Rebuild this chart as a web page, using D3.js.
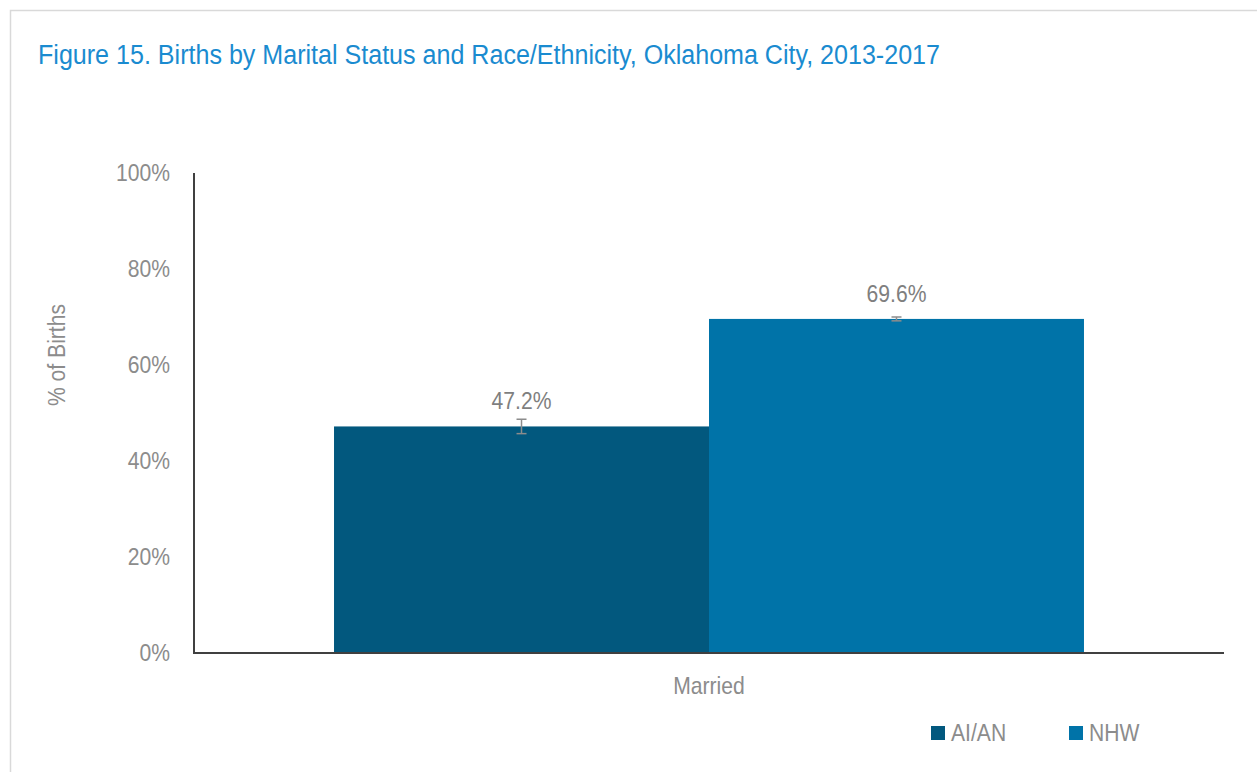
<!DOCTYPE html>
<html>
<head>
<meta charset="utf-8">
<script src="https://cdn.jsdelivr.net/npm/d3@7"></script>
<style>
  html, body { margin: 0; padding: 0; background: #fff; }
  svg { display: block; }
  text { font-family: "Liberation Sans", Arial, sans-serif; }
</style>
</head>
<body>
<svg id="chart" width="1257" height="772"></svg>
<script>
const title = "Figure 15. Births by Marital Status and Race/Ethnicity, Oklahoma City, 2013-2017";
const categories = ["Married"];
const seriesNames = ["AI/AN", "NHW"];
const seriesColors = ["#02587e", "#0073a8"];
const aianValues = [47.2];
const nhwValues = [69.6];
const aianErrors = [1.5];
const nhwErrors = [0.4];
const yTicks = [0, 20, 40, 60, 80, 100];
const yLabel = "% of Births";

const svg = d3.select("#chart");
const W = 1257, H = 772;
const NARROW = 0.88;
const GRAY = "#8c8c8c";

// narrow-text helper (emulates Arial Narrow by horizontal scaling)
function ntext(parent, x, y, str, opts = {}) {
  const rot = opts.rotate ? ` rotate(${opts.rotate})` : "";
  return parent.append("text")
    .attr("transform", `translate(${x},${y})${rot} scale(${NARROW},1)`)
    .attr("text-anchor", opts.anchor || "start")
    .attr("dominant-baseline", opts.baseline || "auto")
    .attr("fill", opts.fill || GRAY)
    .attr("font-size", opts.size || 24)
    .text(str);
}

// outer border
svg.append("rect")
  .attr("x", 10.5).attr("y", 10.5)
  .attr("width", W + 20).attr("height", H + 20)
  .attr("fill", "none").attr("stroke", "#d9d9d9").attr("stroke-width", 1.5);

svg.append("text")
  .attr("x", 38).attr("y", 64)
  .attr("fill", "#1a8bd0")
  .attr("font-size", 27)
  .attr("textLength", 902)
  .attr("lengthAdjust", "spacingAndGlyphs")
  .text(title);

const plot = { left: 194, right: 1224, top: 173, bottom: 653 };

const y = d3.scaleLinear().domain([0, 100]).range([plot.bottom, plot.top]);
const x0 = d3.scaleBand().domain(categories).range([plot.left, plot.right]).paddingOuter(0.1867).paddingInner(0);
const x1 = d3.scaleBand().domain(seriesNames).range([0, x0.bandwidth()]).padding(0);

const data = categories.map((c, i) => ({
  cat: c,
  vals: [
    { s: seriesNames[0], v: aianValues[i], e: aianErrors[i], color: seriesColors[0] },
    { s: seriesNames[1], v: nhwValues[i], e: nhwErrors[i], color: seriesColors[1] }
  ]
}));

// y tick labels
const gy = svg.append("g");
yTicks.forEach(t => {
  ntext(gy, 170, y(t), t + "%", { anchor: "end", baseline: "central" });
});

// y axis title
ntext(svg, 65, (plot.top + plot.bottom) / 2 - 58, yLabel, { anchor: "middle", rotate: -90 });

// bars
const groups = svg.append("g").selectAll("g").data(data).join("g")
  .attr("transform", d => `translate(${x0(d.cat)},0)`);

groups.selectAll("rect").data(d => d.vals).join("rect")
  .attr("x", d => x1(d.s))
  .attr("y", d => y(d.v))
  .attr("width", x1.bandwidth())
  .attr("height", d => y(0) - y(d.v))
  .attr("fill", d => d.color);

// error bars
const eb = groups.selectAll("g.err").data(d => d.vals).join("g").attr("class", "err")
  .attr("stroke", GRAY).attr("stroke-width", 1.5);
eb.append("line")
  .attr("x1", d => x1(d.s) + x1.bandwidth() / 2)
  .attr("x2", d => x1(d.s) + x1.bandwidth() / 2)
  .attr("y1", d => y(d.v + d.e)).attr("y2", d => y(d.v - d.e));
eb.append("line")
  .attr("x1", d => x1(d.s) + x1.bandwidth() / 2 - 5)
  .attr("x2", d => x1(d.s) + x1.bandwidth() / 2 + 5)
  .attr("y1", d => y(d.v + d.e)).attr("y2", d => y(d.v + d.e));
eb.append("line")
  .attr("x1", d => x1(d.s) + x1.bandwidth() / 2 - 5)
  .attr("x2", d => x1(d.s) + x1.bandwidth() / 2 + 5)
  .attr("y1", d => y(d.v - d.e)).attr("y2", d => y(d.v - d.e));

// value labels
groups.each(function(d) {
  const g = d3.select(this);
  d.vals.forEach(v => {
    ntext(g, x1(v.s) + x1.bandwidth() / 2, y(v.v) - 17, v.v.toFixed(1) + "%", { anchor: "middle", fill: "#7f7f7f" });
  });
});

// axes lines
svg.append("line")
  .attr("x1", plot.left).attr("x2", plot.left)
  .attr("y1", plot.top).attr("y2", plot.bottom + 1)
  .attr("stroke", "#404040").attr("stroke-width", 2);
svg.append("line")
  .attr("x1", plot.left).attr("x2", plot.right)
  .attr("y1", plot.bottom).attr("y2", plot.bottom)
  .attr("stroke", "#404040").attr("stroke-width", 2);

// category labels
categories.forEach(c => {
  ntext(svg, x0(c) + x0.bandwidth() / 2, 694, c, { anchor: "middle" });
});

// legend
const legendX = [931, 1069];
seriesNames.forEach((s, i) => {
  const g = svg.append("g").attr("transform", `translate(${legendX[i]},726)`);
  g.append("rect").attr("width", 14).attr("height", 14).attr("fill", seriesColors[i]);
  ntext(g, 20, 15, s, {});
});
</script>
</body>
</html>
